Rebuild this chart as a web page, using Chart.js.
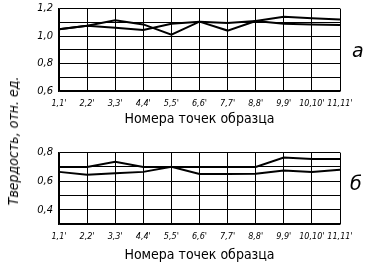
<!DOCTYPE html>
<html>
<head>
<meta charset="utf-8">
<script src="https://cdn.jsdelivr.net/npm/chart.js@4/dist/chart.umd.min.js"></script>
<style>
  body { margin: 0; background: #fff; width: 370px; height: 273px; position: relative; overflow: hidden; }
  .box { position: absolute; left: 0; width: 370px; }
  #topBox { top: -4px; height: 134px; }
  #botBox { top: 140px; height: 133px; }
  .ytitle {
    position: absolute; left: 13px; top: 141px; white-space: nowrap;
    transform: translate(-50%, -50%) rotate(-90deg);
    font: italic 14px 'Liberation Sans Narrow', 'DejaVu Sans Condensed', sans-serif; color: #000;
  }
  .mark { position: absolute; font: italic 19px 'DejaVu Sans', sans-serif; color: #000; }
</style>
</head>
<body>
<div class="box" id="topBox"><canvas id="topChart" width="370" height="134"></canvas></div>
<div class="box" id="botBox"><canvas id="botChart" width="370" height="133"></canvas></div>
<div class="ytitle">Твердость, отн. ед.</div>
<div class="mark" style="left:352px; top:39px;">а</div>
<div class="mark" style="left:350px; top:172px;">б</div>
<script>
// точки образца
var points = ["1,1'", "2,2'", "3,3'", "4,4'", "5,5'", "6,6'", "7,7'", "8,8'", "9,9'", "10,10'", "11,11'"];
var xTitle = "Номера точек образца";

// а
var topLine1 = [1.05, 1.075, 1.115, 1.085, 1.01, 1.105, 1.095, 1.11, 1.09, 1.085, 1.08];
var topLine2 = [1.05, 1.075, 1.06, 1.045, 1.09, 1.105, 1.04, 1.11, 1.14, 1.13, 1.12];
var topTicks = ['0,6', '', '0,8', '', '1,0', '', '1,2'];

// б
var botLine1 = [0.70, 0.70, 0.735, 0.70, 0.70, 0.70, 0.70, 0.70, 0.765, 0.755, 0.755];
var botLine2 = [0.665, 0.645, 0.655, 0.665, 0.70, 0.65, 0.65, 0.652, 0.675, 0.665, 0.68];
var botTicks = ['', '0,4', '', '0,6', '', '0,8'];

var tickFont = { family: "'Liberation Sans Narrow', 'DejaVu Sans Condensed', sans-serif", size: 11, style: 'italic' };
var xTickFont = { family: "'Liberation Sans Narrow', 'DejaVu Sans Condensed', sans-serif", size: 9, style: 'italic' };
var titleFont = { family: "'Liberation Sans Narrow', 'DejaVu Sans Condensed', sans-serif", size: 14 };

function makeChart(id, lines, yMin, yMax, yLabels, padTop, xHeight, labelPad, titlePad) {
    var ctx = document.getElementById(id).getContext('2d');
    return new Chart(ctx, {
        type: 'line',
        data: {
            labels: points,
            datasets: lines.map(function (d) {
                return { data: d, borderColor: '#000', borderWidth: 2, pointRadius: 0, tension: 0, fill: false };
            })
        },
        options: {
            responsive: false,
            animation: false,
            layout: { padding: { top: padTop, right: 30, left: 0, bottom: 0 } },
            plugins: { legend: { display: false }, tooltip: { enabled: false } },
            scales: {
                x: {
                    offset: false,
                    grid: { color: '#000', lineWidth: 1, drawTicks: false },
                    border: { color: '#000', width: 1.5 },
                    ticks: { color: '#000', font: xTickFont, padding: labelPad, maxRotation: 0, autoSkip: false },
                    title: { display: true, text: xTitle, color: '#000', font: titleFont, padding: { top: 0, bottom: titlePad } },
                    afterFit: function (s) { s.height = xHeight; }
                },
                y: {
                    min: yMin, max: yMax,
                    grid: { color: '#000', lineWidth: 1, drawTicks: false },
                    border: { color: '#000', width: 1.5 },
                    ticks: {
                        stepSize: 0.1, autoSkip: false, color: '#000', font: tickFont, padding: 6,
                        callback: function (v, i) { return yLabels[i]; }
                    },
                    afterFit: function (s) { s.width = 59; }
                }
            }
        }
    });
}

makeChart('topChart', [topLine1, topLine2], 0.6, 1.2, topTicks, 2, 39, 7, 2);
makeChart('botChart', [botLine1, botLine2], 0.3, 0.8, botTicks, 12, 49, 7, 9);
</script>
</body>
</html>
